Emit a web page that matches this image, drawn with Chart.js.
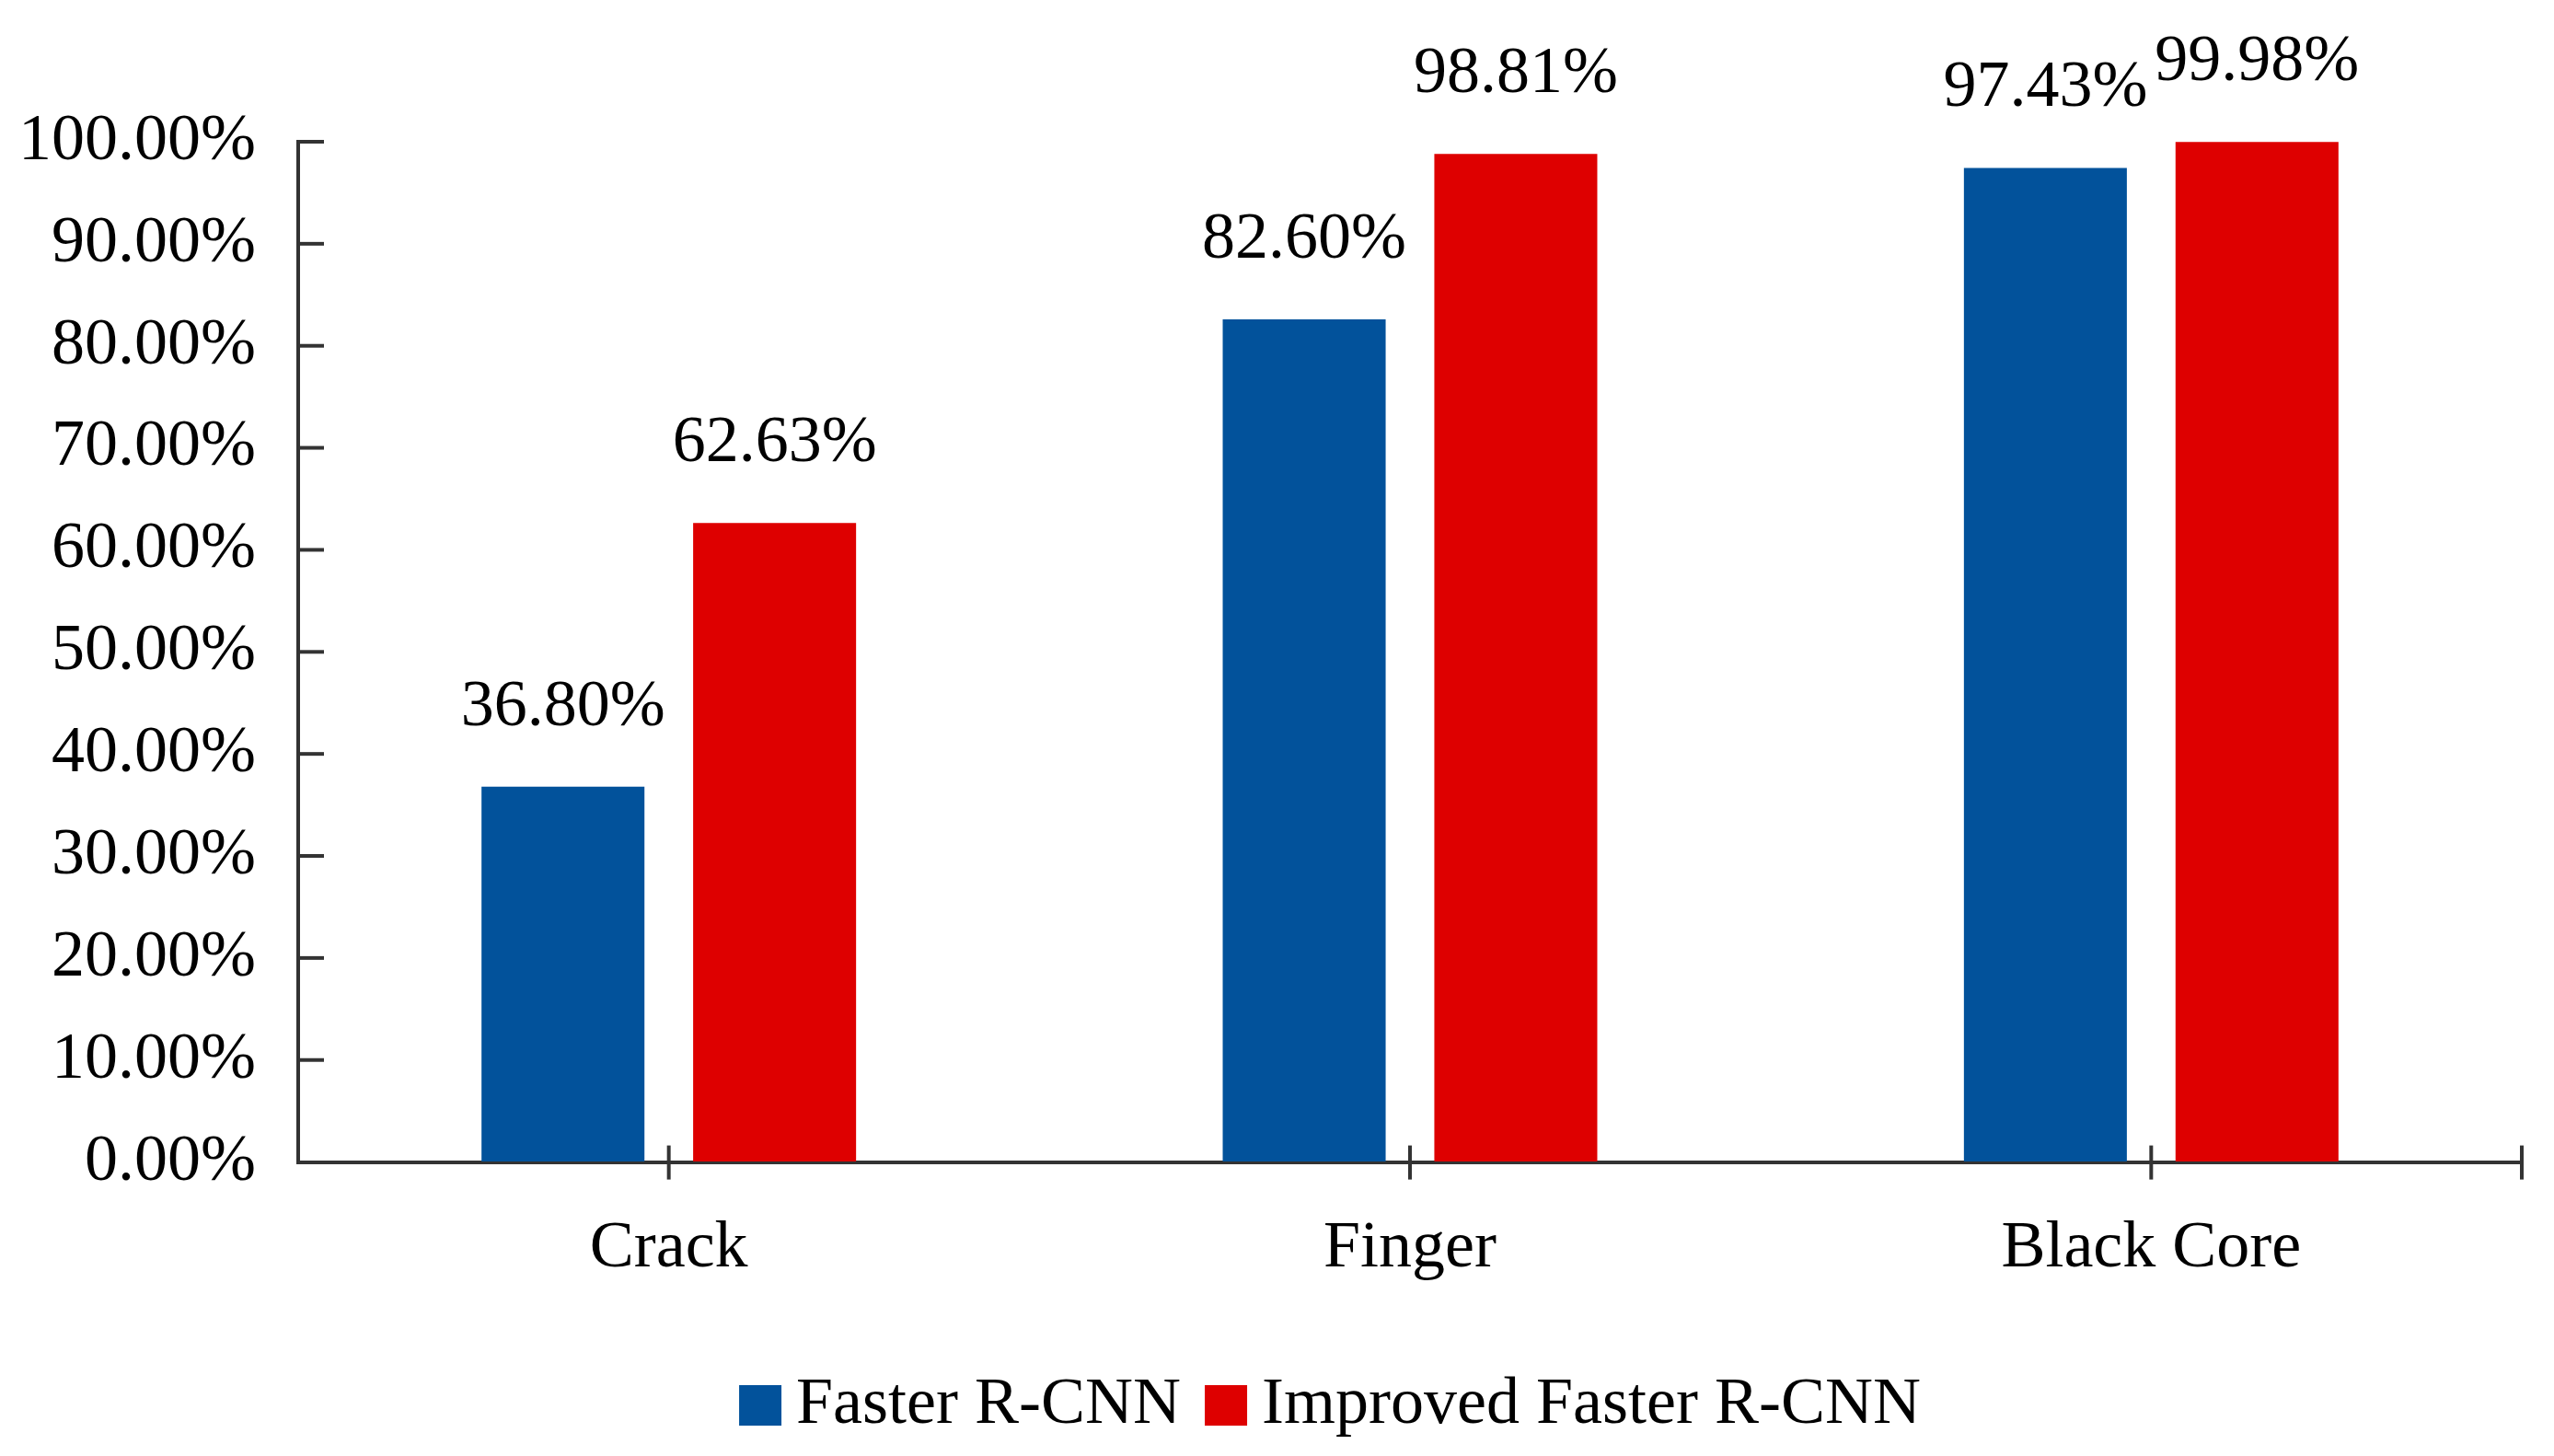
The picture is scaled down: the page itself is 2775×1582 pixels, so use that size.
<!DOCTYPE html>
<html>
<head>
<meta charset="utf-8">
<script src="https://cdn.jsdelivr.net/npm/chart.js@4.4.1/dist/chart.umd.min.js"></script>
<style>
  html, body { margin: 0; padding: 0; background: #ffffff; }
  #wrap { width: 2775px; height: 1582px; position: relative; }
</style>
</head>
<body>
<div id="wrap"><canvas id="c" width="2775" height="1582"></canvas></div>
<script>
// ---- data ----
const categories = ['Crack', 'Finger', 'Black Core'];
const seriesNames = ['Faster R-CNN', 'Improved Faster R-CNN'];
const fasterRCNN = [36.80, 82.60, 97.43];
const improvedFasterRCNN = [62.63, 98.81, 99.98];
const yTickLabels = ['0.00%', '10.00%', '20.00%', '30.00%', '40.00%', '50.00%',
                     '60.00%', '70.00%', '80.00%', '90.00%', '100.00%'];

// ---- styles ----
const FONT = '"Liberation Serif", "Times New Roman", serif';
const FONT_SIZE = 72;
const AXIS_COLOR = '#333333';
const BLUE = '#02529B';
const RED = '#DE0000';

const customDecor = {
  id: 'customDecor',
  afterDraw(chart) {
    const ctx = chart.ctx;
    const xs = chart.scales.x, ys = chart.scales.y;
    const area = chart.chartArea;
    ctx.save();
    ctx.strokeStyle = AXIS_COLOR;
    ctx.lineWidth = 4;
    ys.ticks.forEach((t, i) => {
      if (i === 0) return;
      const y = ys.getPixelForTick(i);
      ctx.beginPath();
      ctx.moveTo(area.left, y);
      ctx.lineTo(area.left + 28, y);
      ctx.stroke();
    });
    const xPos = xs.ticks.map((t, i) => xs.getPixelForTick(i));
    xPos.push(area.right);
    xPos.forEach(x => {
      ctx.beginPath();
      ctx.moveTo(x, area.bottom - 18);
      ctx.lineTo(x, area.bottom + 19);
      ctx.stroke();
    });
    ctx.restore();
  },
  afterDatasetsDraw(chart) {
    const ctx = chart.ctx;
    ctx.save();
    ctx.font = FONT_SIZE + 'px ' + FONT;
    ctx.fillStyle = '#000000';
    ctx.textAlign = 'center';
    ctx.textBaseline = 'middle';
    chart.data.datasets.forEach((ds, di) => {
      const meta = chart.getDatasetMeta(di);
      meta.data.forEach((el, i) => {
        ctx.fillText(ds.data[i].toFixed(2) + '%', el.x, el.y - 86);
      });
    });
    const boxW = 46, boxH = 44, boxGap = 16, itemGap = 26;
    const items = chart.data.datasets.map(ds => ({
      text: ds.label, color: ds.backgroundColor, w: ctx.measureText(ds.label).width
    }));
    let total = 0;
    items.forEach((it, i) => { total += boxW + boxGap + it.w + (i ? itemGap : 0); });
    const cx = 1445, cy = 1527;
    let x = cx - total / 2;
    ctx.textAlign = 'left';
    items.forEach((it, i) => {
      if (i) x += itemGap;
      ctx.fillStyle = it.color;
      ctx.fillRect(x, cy - boxH / 2, boxW, boxH);
      x += boxW + boxGap;
      ctx.fillStyle = '#000000';
      ctx.fillText(it.text, x, cy);
      x += it.w;
    });
    ctx.restore();
  }
};

new Chart(document.getElementById('c'), {
  type: 'bar',
  data: {
    labels: categories,
    datasets: [
      { label: seriesNames[0], data: fasterRCNN, backgroundColor: BLUE, borderWidth: 0 },
      { label: seriesNames[1], data: improvedFasterRCNN, backgroundColor: RED, borderWidth: 0 }
    ]
  },
  options: {
    responsive: false,
    animation: false,
    devicePixelRatio: 1,
    layout: { padding: { left: 0, right: 35, top: 154, bottom: 131 } },
    plugins: {
      legend: { display: false },
      tooltip: { enabled: false },
      title: { display: false }
    },
    datasets: {
      bar: { categoryPercentage: 0.571, barPercentage: 0.77 }
    },
    scales: {
      x: {
        grid: { display: false, drawTicks: false },
        border: { display: true, color: AXIS_COLOR, width: 4 },
        ticks: {
          padding: 51,
          color: '#000000',
          font: { family: FONT, size: FONT_SIZE },
          maxRotation: 0
        }
      },
      y: {
        min: 0,
        max: 100,
        grid: { display: true, drawOnChartArea: false, drawTicks: false },
        border: { display: true, color: AXIS_COLOR, width: 4 },
        afterFit(scale) { scale.width = 324; },
        ticks: {
          stepSize: 10,
          padding: 46,
          color: '#000000',
          font: { family: FONT, size: FONT_SIZE },
          callback: (v, i) => yTickLabels[i]
        }
      }
    }
  },
  plugins: [customDecor]
});
</script>
</body>
</html>
